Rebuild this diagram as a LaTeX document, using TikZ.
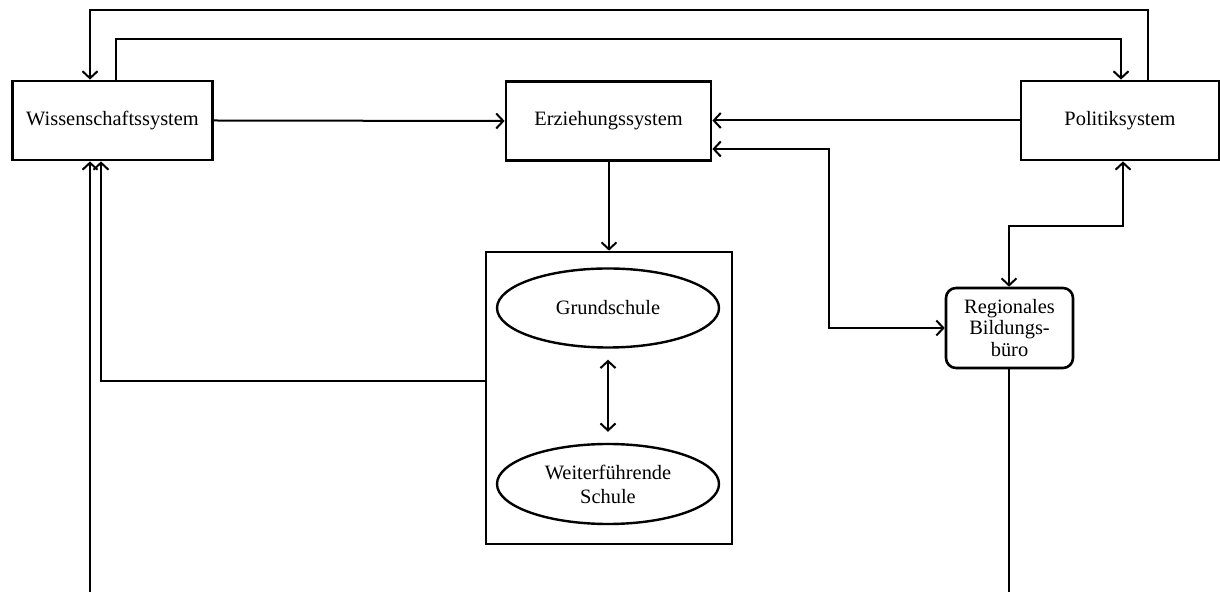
\documentclass[tikz,border=0pt]{standalone}
\usepackage{fontspec}
\setmainfont{Liberation Serif}
\usetikzlibrary{positioning,arrows.meta,shapes.geometric}

\begin{document}
\begin{tikzpicture}[
  x=0.5pt, y=-0.5pt,
  font=\fontsize{10.2}{12}\selectfont,
  sys/.style = {draw, line width=1.4pt, align=center, inner sep=2pt,
                minimum width=100pt, minimum height=39.5pt},
  sch/.style = {draw, ellipse, line width=1.2pt, align=center, inner sep=0pt,
                minimum width=111pt, minimum height=39.5pt},
  box/.style = {draw, line width=1.3pt},
  rbb/.style = {draw, line width=1.3pt, rounded corners=5pt, align=center,
                font=\fontsize{10.2}{10.8}\selectfont,
                minimum width=63.5pt, minimum height=40pt, inner sep=1pt},
  con/.style = {line width=1pt},
  arr/.style = {con, -{Straight Barb[length=3.5pt,width=7.5pt]}},
  dbl/.style = {con, {Straight Barb[length=3.5pt,width=7.5pt]}-{Straight Barb[length=3.5pt,width=7.5pt]}}
]
\useasboundingbox (0,0) rectangle (1220,592);

% ---------- the three systems ----------------------------------------------
\node[sys] (wiss) at (112.5,120.5) {Wissenschaftssystem};
\node[sys, minimum width=102.5pt] (erz) at (608.5,121) {Erziehungssystem};
\node[sys, minimum width=99pt] (pol) at (1120,120.5) {Politiksystem};

% ---------- schools --------------------------------------------------------
\node[box, minimum width=123pt, minimum height=146pt] (schulen) at (609,398) {};
\node[sch] (grund) at (608,308) {Grundschule};
\node[sch, minimum height=40pt] (weiter) at (608,484) {Weiterführende\\Schule};

% ---------- regional office ------------------------------------------------
\node[rbb] (buero) at (1009.5,328) {Regionales\\Bildungs-\\büro};

% ---------- helper points --------------------------------------------------
\coordinate (t1) at (116,39);
\coordinate (t2) at (1121,39);
\coordinate (u1) at (1148,10);
\coordinate (u2) at (90,10);
\coordinate (s1) at (101,381);
\coordinate (e1) at (829,149);
\coordinate (p1) at (1123,226);
\coordinate (p2) at (1009,226);
\coordinate (b1) at (90,592);
\coordinate (b2) at (1009,592);

% ---------- connectors -----------------------------------------------------
\draw[arr] (wiss.north -| t1) -- (t1) -- (t2) -- (pol.north -| t2);
\draw[arr] (pol.north -| u1) -- (u1) -- (u2) -- (wiss.north -| u2);
\draw[arr] (wiss.east) -- (erz.west);
\draw[arr] (pol.west) -- (erz.east |- pol.west);
\draw[dbl] (erz.east |- e1) -- (e1) |- (buero.west);
\draw[arr] (erz.south -| schulen.north) -- (schulen.north);
\draw[dbl] ([yshift=-5.5pt]grund.south) -- ([yshift=5.5pt]weiter.north);
\draw[arr] (schulen.west |- s1) -- (s1) -- (wiss.south -| s1);
\draw[arr] (b1) -- (wiss.south -| b1);
\draw[dbl] (pol.south -| p1) -- (p1) -- (p2) -- (buero.north -| p2);
\draw[con] (buero.south -| b2) -- (b2);

\end{tikzpicture}
\end{document}
